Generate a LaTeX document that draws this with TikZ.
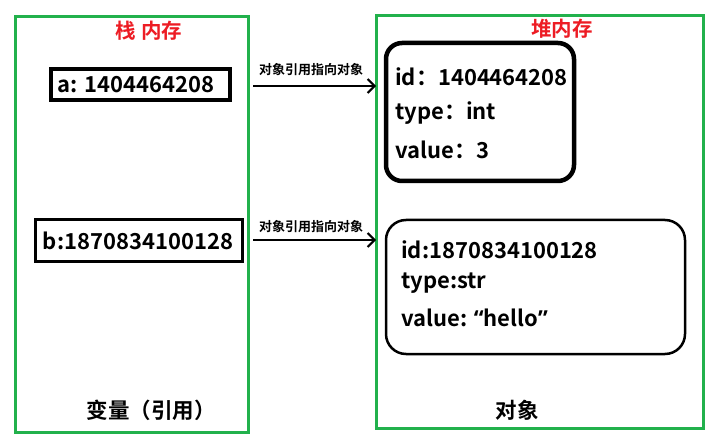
\documentclass[tikz,border=0pt]{standalone}
\usepackage{fontspec}
\setmainfont{Noto Sans CJK SC}[BoldFont={* Bold}]
\newfontfamily\quotefont{Open Sans}
\usetikzlibrary{arrows.meta}
\definecolor{gbox}{HTML}{22B14C}
\definecolor{rtitle}{HTML}{ED1C24}
\tikzset{
  region/.style={draw=gbox,line width=3pt,fill=none},
  title/.style={text=rtitle,font=\fontsize{20.5}{24}\selectfont\bfseries,inner sep=0pt},
  varbox/.style={draw=black,inner sep=0pt},
  objbox/.style={draw=black,inner sep=0pt},
  field/.style={anchor=west,inner sep=0pt,font=\fontsize{22}{25}\selectfont\bfseries},
  vartext/.style={font=\fontsize{22}{25}\selectfont\bfseries},
  arrlabel/.style={inner sep=0pt,font=\fontsize{13}{15}\selectfont\bfseries},
  bottomlabel/.style={inner sep=0pt,font=\fontsize{21.5}{24}\selectfont\bfseries},
  refarrow/.style={line width=2.6pt,-{Straight Barb[length=7pt,width=14pt,line width=2pt]}}
}
\begin{document}
\begin{tikzpicture}[x=1pt,y=-1pt]
\useasboundingbox (0,0) rectangle (725,446);
\fill[white] (0,0) rectangle (725,446);
% regions
\node[region,minimum width=233pt,minimum height=415pt] (stack) at (131.5,224.5) {};
\node[region,minimum width=327pt,minimum height=412pt] (heap) at (539.5,222) {};
\node[title] (stacktitle) at (149,31) {栈 内存};
\node[title] (heaptitle) at (562,29) {堆内存};
% variables
\node[varbox,line width=3.5pt,minimum width=179pt,minimum height=31pt] (a) at (140.5,84.5) {};
\node[vartext] (atext) at (136,84.5) {a: 1404464208};
\node[varbox,line width=3pt,minimum width=207pt,minimum height=42pt] (b) at (138.5,241) {};
\node[vartext] (btext) at (138,241) {b:1870834100128};
% objects
\node[objbox,line width=4.5pt,rounded corners=16pt,minimum width=188pt,minimum height=138pt] (obj1) at (480,112) {};
\node[field] (id1) at (395,77) {id：1404464208};
\node[field] (type1) at (395,113) {type：int};
\node[field] (val1) at (395,150) {value：3};
\node[objbox,line width=2.5pt,rounded corners=20pt,minimum width=299pt,minimum height=134pt] (obj2) at (535.5,287) {};
\node[field] (id2) at (401,250) {id:1870834100128};
\node[field] (type2) at (401,283) {type:str};
\node[field] (val2) at (401,318) {value: {\quotefont\bfseries “}hello{\quotefont\bfseries ”}};
% arrows
\coordinate (a1s) at (253,86);
\coordinate (a1e) at (376,86);
\coordinate (a2s) at (253,240);
\coordinate (a2e) at (376,240);
\draw[refarrow] (a1s) -- (a1e);
\draw[refarrow] (a2s) -- (a2e);
\node[arrlabel] (l1) at (311,70) {对象引用指向对象};
\node[arrlabel] (l2) at (311,227) {对象引用指向对象};
% bottom labels
\node[bottomlabel] (varlabel) at (151,410) {变量（引用）};
\node[bottomlabel] (objlabel) at (517,410) {对象};
\end{tikzpicture}
\end{document}
